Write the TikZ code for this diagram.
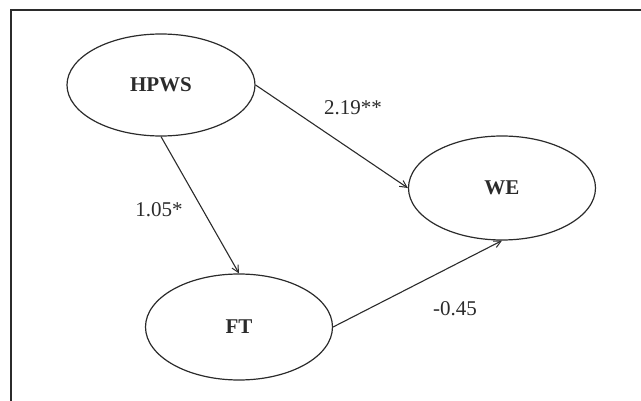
\documentclass[tikz,border=0pt]{standalone}
\usepackage{fontspec}
\setmainfont{Liberation Serif}
\usetikzlibrary{shapes.geometric,arrows.meta}
\definecolor{ink}{HTML}{2B2B2B}
\tikzset{
  construct/.style={ellipse, draw=ink, line width=1.2pt, inner sep=0pt,
    font=\fontsize{21}{24}\selectfont\bfseries, text=ink},
  path/.style={draw=ink, line width=1.1pt,
    -{Straight Barb[length=7pt,width=7pt,line width=1pt]}},
  coef/.style={font=\fontsize{21}{24}\selectfont, text=ink, inner sep=0pt},
  frameline/.style={draw=ink, line width=2pt}
}
\begin{document}
\begin{tikzpicture}[x=1pt,y=-1pt]
  \useasboundingbox (0,0) rectangle (641,401);
  % outer frame (open on the right and bottom)
  \draw[frameline] (10.5,401) -- (10.5,10.5) -- (641,10.5);

  % latent constructs
  \node[construct, minimum width=188pt, minimum height=102pt] (hpws) at (161,85) {HPWS};
  \node[construct, minimum width=187pt, minimum height=104pt] (we)   at (502,188) {WE};
  \node[construct, minimum width=187pt, minimum height=106pt] (ft)   at (239,327) {FT};

  % structural paths
  \draw[path] (hpws.east)  -- (we.west);
  \draw[path] (hpws.south) -- (ft.north);
  \draw[path] (ft.east)    -- (we.south);

  % path coefficients
  \node[coef] (c1) at (353,108) {2.19**};
  \node[coef] (c2) at (159,210) {1.05*};
  \node[coef] (c3) at (455,309) {-0.45};
\end{tikzpicture}
\end{document}
